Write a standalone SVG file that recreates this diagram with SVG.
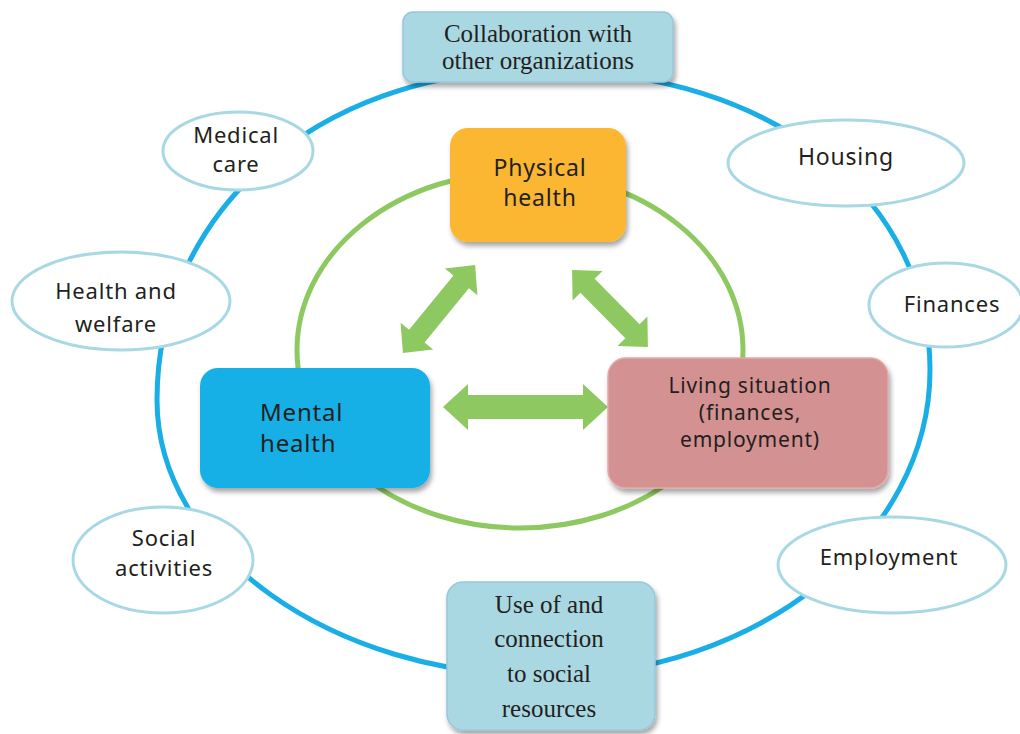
<svg xmlns="http://www.w3.org/2000/svg" width="1020" height="734" viewBox="0 0 1020 734">
  <defs>
    <filter id="shadow" x="-10%" y="-10%" width="125%" height="130%">
      <feDropShadow dx="2" dy="4" stdDeviation="2.5" flood-color="#000" flood-opacity="0.35"/>
    </filter>
    <style>
      .ring-outer { fill: none; stroke: #19afe6; stroke-width: 5; }
      .ring-inner { fill: none; stroke: #8dc860; stroke-width: 5; }
      .oval { fill: #fff; stroke: #a8d8e4; stroke-width: 3; }
      .pale { fill: #a9d8e3; stroke: #98c6dc; stroke-width: 1.5; }
      .arrow { fill: #8dc860; }
      .sans { font-family: "Noto Sans", "DejaVu Sans", sans-serif; fill: #231f20; text-anchor: middle; letter-spacing: 0.8px; }
      .serif { font-family: "Liberation Serif", "Times New Roman", serif; fill: #231f20; text-anchor: middle; font-size: 25px; }
    </style>
  </defs>

  <rect width="1020" height="734" fill="#fff"/>

  <!-- connectors: outer resource ring, inner ring, and double arrows -->
  <g id="connectors">
    <path class="ring-outer" d="M540,70 C782,70 930,205 930,370 C930,538 757,676 545,676 C332,676 157,552 157,400 C157,218 310,70 540,70 Z"/>
    <ellipse class="ring-inner" cx="520" cy="350" rx="223" ry="178"/>
    <polygon class="arrow" points="-82.5,0 -57.5,-23 -57.5,-12 57.5,-12 57.5,-23 82.5,0 57.5,23 57.5,12 -57.5,12 -57.5,23" transform="translate(525.5,407)"/>
    <polygon class="arrow" points="-57,0 -35,-21 -35,-10 35,-10 35,-21 57,0 35,21 35,10 -35,10 -35,21" transform="translate(439,309) rotate(-50.7)"/>
    <polygon class="arrow" points="-54,0 -32,-21 -32,-10 32,-10 32,-21 54,0 32,21 32,10 -32,10 -32,21" transform="translate(610,308.5) rotate(45.4)"/>
  </g>

  <!-- outer ring resources -->
  <g id="collaboration">
    <rect class="pale" x="403" y="12" width="270" height="70" rx="10" filter="url(#shadow)"/>
    <text class="serif" x="538" y="42">Collaboration with</text>
    <text class="serif" x="538" y="69">other organizations</text>
  </g>

  <g id="medical-care">
    <ellipse class="oval" cx="238" cy="151" rx="75" ry="39"/>
    <text class="sans" x="236" y="143" font-size="22">Medical</text>
    <text class="sans" x="236" y="172" font-size="22">care</text>
  </g>

  <g id="health-welfare">
    <ellipse class="oval" cx="121" cy="301" rx="109" ry="49"/>
    <text class="sans" x="116" y="299" font-size="22">Health and</text>
    <text class="sans" x="116" y="332" font-size="22">welfare</text>
  </g>

  <g id="social-activities">
    <ellipse class="oval" cx="163" cy="560" rx="90" ry="53"/>
    <text class="sans" x="164" y="546" font-size="22">Social</text>
    <text class="sans" x="164" y="576" font-size="22">activities</text>
  </g>

  <g id="housing">
    <ellipse class="oval" cx="846" cy="163" rx="118" ry="43"/>
    <text class="sans" x="846" y="165" font-size="23">Housing</text>
  </g>

  <g id="finances">
    <ellipse class="oval" cx="946" cy="305" rx="77" ry="42"/>
    <text class="sans" x="952" y="312" font-size="22">Finances</text>
  </g>

  <g id="employment">
    <ellipse class="oval" cx="892" cy="565" rx="114" ry="48"/>
    <text class="sans" x="889" y="565" font-size="22">Employment</text>
  </g>

  <g id="social-resources">
    <rect class="pale" x="447" y="582" width="208" height="148" rx="16" filter="url(#shadow)"/>
    <text class="serif" x="549" y="613">Use of and</text>
    <text class="serif" x="549" y="647">connection</text>
    <text class="serif" x="549" y="682">to social</text>
    <text class="serif" x="549" y="717">resources</text>
  </g>

  <!-- core triad -->
  <g id="physical-health">
    <rect x="450" y="128" width="176" height="114" rx="18" fill="#fbb632" filter="url(#shadow)"/>
    <text class="sans" x="540" y="176" font-size="23">Physical</text>
    <text class="sans" x="540" y="206" font-size="23">health</text>
  </g>

  <g id="mental-health">
    <rect x="200" y="368" width="230" height="120" rx="18" fill="#19b0e6" filter="url(#shadow)"/>
    <text class="sans" x="260" y="421" font-size="24" style="text-anchor:start">Mental</text>
    <text class="sans" x="260" y="452" font-size="24" style="text-anchor:start">health</text>
  </g>

  <g id="living-situation">
    <rect x="608" y="358" width="280" height="130" rx="18" fill="#d49191" stroke="#e3a9a9" stroke-width="1.5" filter="url(#shadow)"/>
    <text class="sans" x="750" y="393" font-size="21">Living situation</text>
    <text class="sans" x="750" y="420" font-size="21">(finances,</text>
    <text class="sans" x="750" y="447" font-size="21">employment)</text>
  </g>
</svg>
